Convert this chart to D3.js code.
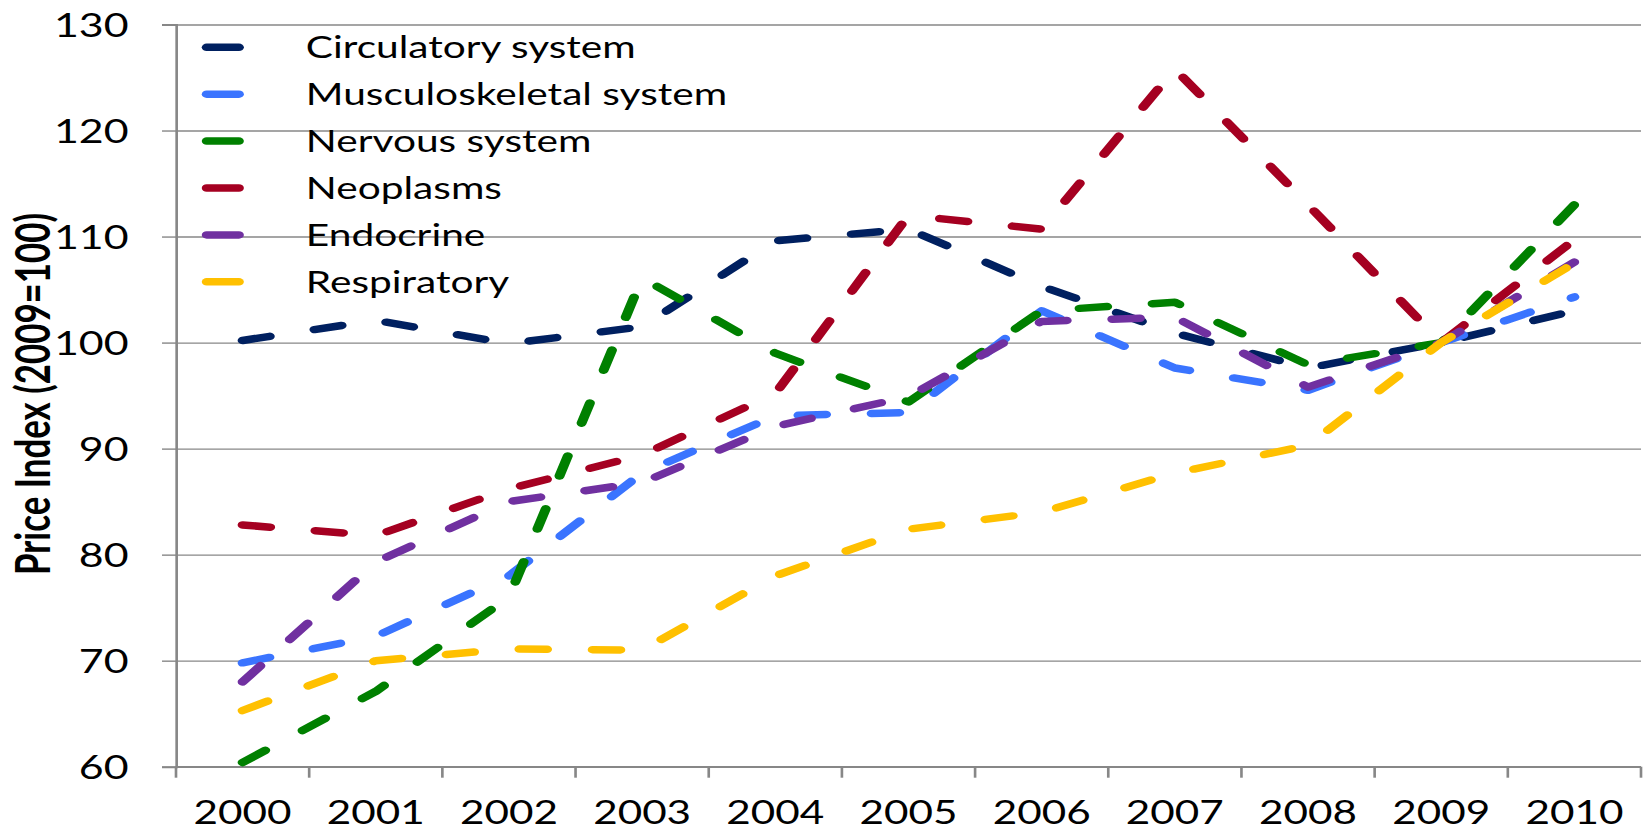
<!DOCTYPE html>
<html>
<head>
<meta charset="utf-8">
<script src="https://cdn.jsdelivr.net/npm/d3@7"></script>
<style>
  html, body { margin: 0; padding: 0; background: #ffffff; }
  svg { display: block; }
  text { font-family: Lato, "Open Sans", "Noto Sans", sans-serif; fill: #000; }
</style>
</head>
<body>
<svg id="chart" width="1643" height="832"></svg>
<script>
// Price index by therapeutic area, 2009 = 100
const years = [2000, 2001, 2002, 2003, 2004, 2005, 2006, 2007, 2008, 2009, 2010];
const circulatory     = [100.2, 102.1, 99.9, 101.5, 109.6, 110.7, 105.3, 100.9, 97.6, 100, 103.0];
const musculoskeletal = [69.8, 72.3, 78.0, 87.7, 93.1, 93.4, 103.0, 97.6, 95.5, 100, 104.3];
const nervous         = [60.4, 67.1, 76.0, 106.1, 99.0, 94.4, 103.0, 103.8, 97.9, 100, 113.0];
const neoplasms       = [82.8, 81.8, 86.2, 89.4, 95.2, 112.0, 110.7, 125.8, 113.0, 100, 109.7];
const endocrine       = [68.0, 79.3, 85.0, 86.8, 92.1, 94.9, 102.0, 102.4, 95.8, 100, 107.6];
const respiratory     = [65.3, 70.0, 71.1, 71.0, 78.0, 82.4, 84.0, 87.7, 90.3, 100, 107.5];

const seriesNames  = ["Circulatory system", "Musculoskeletal system", "Nervous system", "Neoplasms", "Endocrine", "Respiratory"];
const seriesValues = [circulatory, musculoskeletal, nervous, neoplasms, endocrine, respiratory];
const seriesColors = ["#002060", "#3a74ff", "#008000", "#a50021", "#7030a0", "#ffc000"];

const yTicks = [60, 70, 80, 90, 100, 110, 120, 130];
const yTitle = "Price Index (2009=100)";

// The whole drawing is laid out in a narrower frame and widened horizontally.
const SX = 1.32;
const W = 1643, H = 832;
const plotLeft = 176 / SX, plotRight = 1641 / SX;
const plotTop = 24.5, plotBottom = 766.7;
const tickLen = 10.6;

const svg = d3.select("#chart");
svg.append("rect").attr("width", W).attr("height", H).attr("fill", "#fff");
const g = svg.append("g").attr("transform", `scale(${SX},1)`);

const x = d3.scaleBand().domain(years).range([plotLeft, plotRight]).paddingInner(0).paddingOuter(0);
const y = d3.scaleLinear().domain([60, 130]).range([plotBottom, plotTop]);
const cx = d => x(d) + x.bandwidth() / 2;

// horizontal gridlines with the short outer ticks on the left
const grid = g.append("g")
  .attr("transform", `translate(${plotLeft},0)`)
  .call(d3.axisLeft(y).tickValues(yTicks).tickSize(-(plotRight - plotLeft)).tickFormat(""));
grid.select(".domain").remove();
grid.selectAll(".tick line").attr("stroke", "#878787").attr("stroke-width", 1.4);

const yAxis = g.append("g")
  .attr("transform", `translate(${plotLeft},0)`)
  .call(d3.axisLeft(y).tickValues(yTicks).tickSize(tickLen).tickPadding(25.3).tickFormat(d3.format("d")));
yAxis.select(".domain").attr("stroke", "#878787").attr("stroke-width", 2);
yAxis.selectAll(".tick line").attr("stroke", "#878787").attr("stroke-width", 1.4);
yAxis.selectAll(".tick text")
  .attr("font-size", 32.5)
  .attr("font-family", "Lato, 'Open Sans', sans-serif")
  .attr("fill", "#000")
  .attr("dy", "0.36em");

// category axis: ticks sit on the band boundaries
const bounds = d3.range(years.length + 1).map(i => plotLeft + i * x.step());
const xAxis = g.append("g");
xAxis.append("line")
  .attr("x1", plotLeft).attr("x2", plotRight)
  .attr("y1", plotBottom).attr("y2", plotBottom)
  .attr("stroke", "#878787").attr("stroke-width", 1.6);
xAxis.selectAll("line.xtick").data(bounds).join("line")
  .attr("class", "xtick")
  .attr("x1", d => d).attr("x2", d => d)
  .attr("y1", plotBottom).attr("y2", plotBottom + 11)
  .attr("stroke", "#878787").attr("stroke-width", 2);
xAxis.selectAll("text").data(years).join("text")
  .attr("x", d => cx(d))
  .attr("y", 824.5)
  .attr("text-anchor", "middle")
  .attr("font-size", 32)
  .text(d => d);

// y axis title
g.append("text")
  .attr("transform", `translate(${49.5 / SX},394) rotate(-90)`)
  .attr("text-anchor", "middle")
  .attr("font-weight", "bold")
  .attr("font-size", 36)
  .attr("textLength", 362)
  .attr("lengthAdjust", "spacingAndGlyphs")
  .text(yTitle);

// series lines
const line = d3.line().x((d, i) => cx(years[i])).y(d => y(d));
const lines = g.append("g").attr("fill", "none");
seriesValues.forEach((vals, k) => {
  lines.append("path")
    .datum(vals)
    .attr("d", line)
    .attr("stroke", seriesColors[k])
    .attr("stroke-width", 7.5)
    .attr("stroke-linecap", "round")
    .attr("stroke-linejoin", "round")
    .attr("stroke-dasharray", "21 34.5");
});

// legend
const legendY0 = 47.3, legendStep = 46.9;
const legend = g.append("g");
seriesNames.forEach((name, k) => {
  const ly = legendY0 + k * legendStep;
  legend.append("line")
    .attr("x1", 156.6).attr("x2", 181)
    .attr("y1", ly).attr("y2", ly)
    .attr("stroke", seriesColors[k])
    .attr("stroke-width", 7.5)
    .attr("stroke-linecap", "round");
  legend.append("text")
    .attr("x", 231.7)
    .attr("y", ly + 11)
    .attr("font-size", 30.8)
    .text(name);
});
</script>
</body>
</html>
